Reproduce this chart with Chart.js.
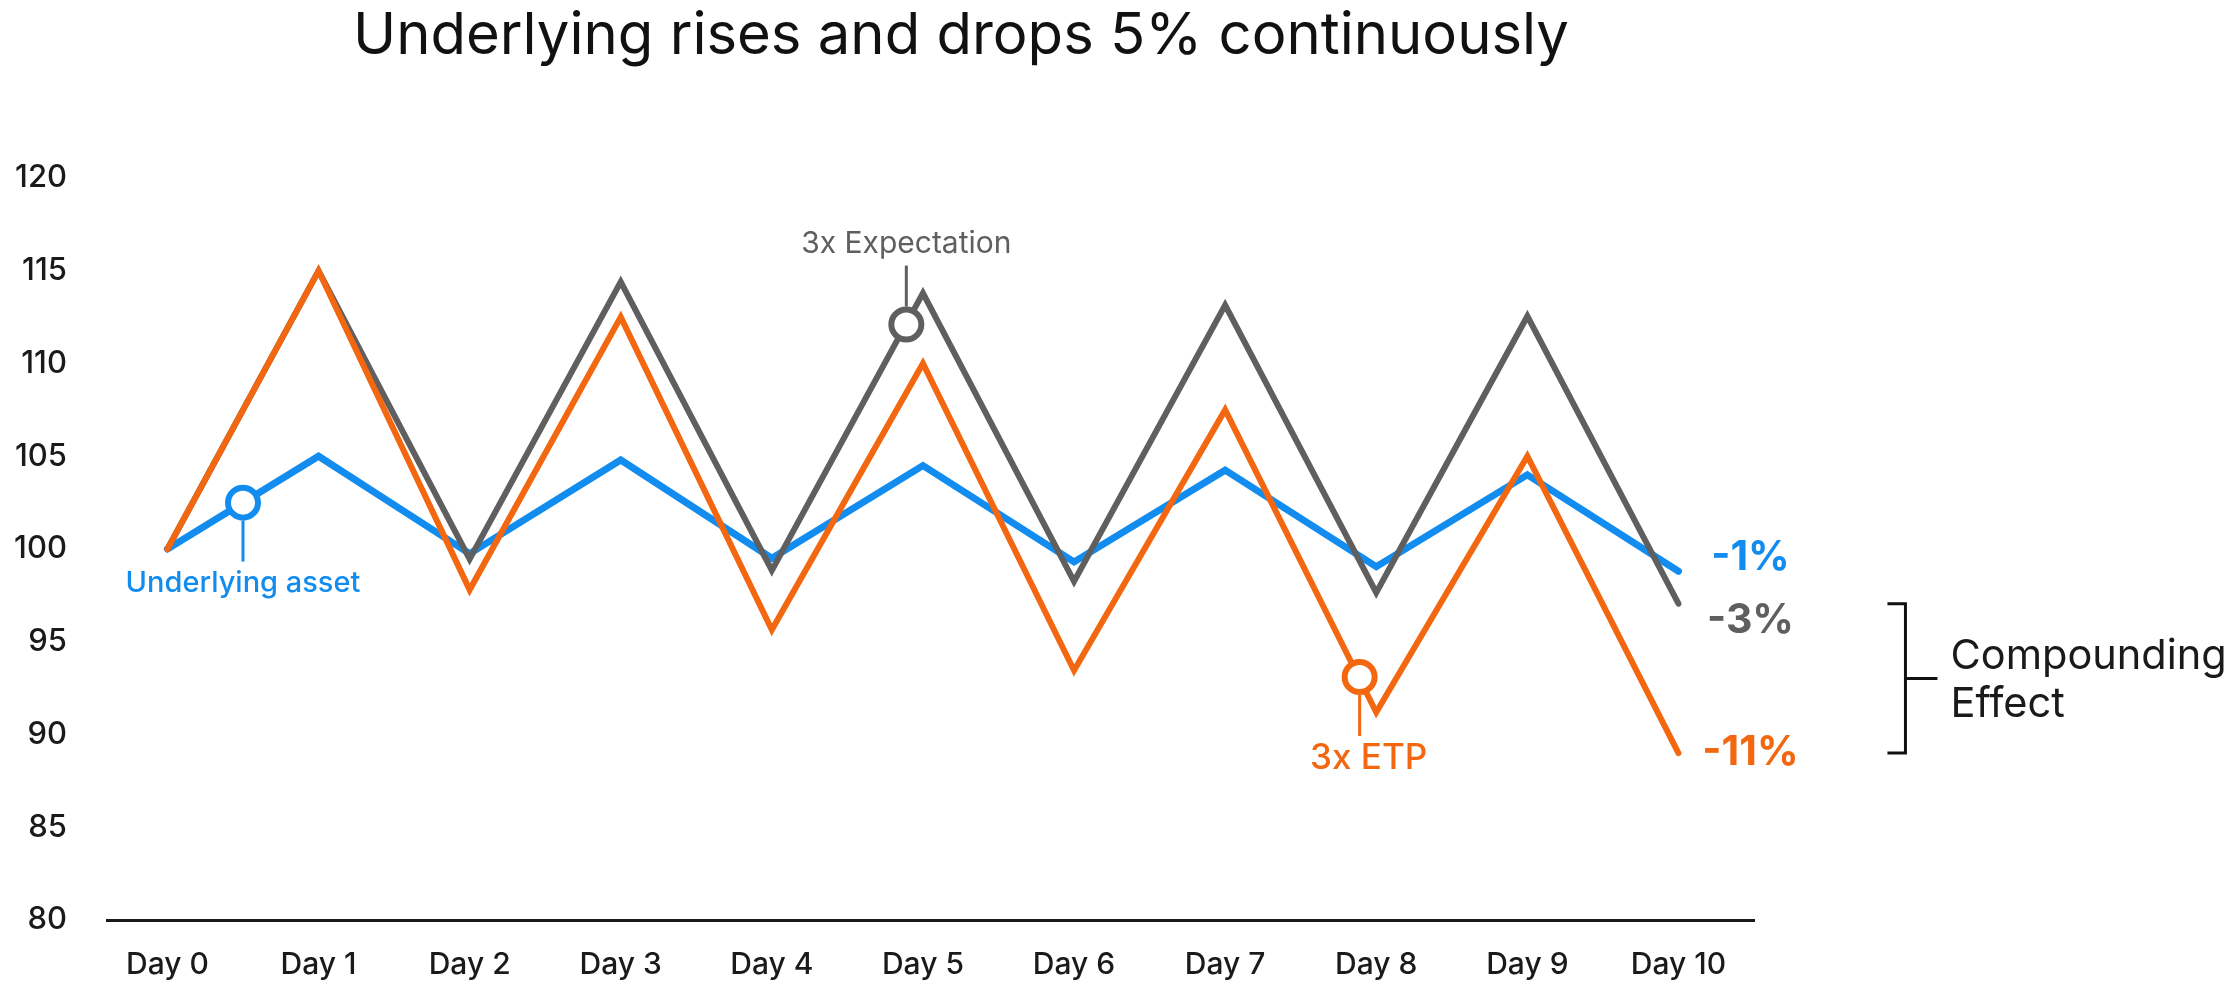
<!DOCTYPE html>
<html>
<head>
<meta charset="utf-8">
<script src="https://cdn.jsdelivr.net/npm/chart.js@4.4.1/dist/chart.umd.min.js"></script>
<style>
  html, body { margin: 0; padding: 0; background: #ffffff; }
  #wrap { width: 2233px; height: 982px; position: relative; }
</style>
</head>
<body>
<div id="wrap"><canvas id="chart"></canvas></div>
<script>
// ---------- data ----------
const categories = ["Day 0", "Day 1", "Day 2", "Day 3", "Day 4", "Day 5", "Day 6", "Day 7", "Day 8", "Day 9", "Day 10"];
const underlying   = [100, 105, 99.75, 104.8, 99.5, 104.5, 99.3, 104.25, 99.05, 104.0, 98.8];
const expectation3x = [100, 115, 99.45, 114.4, 98.85, 113.8, 98.25, 113.15, 97.65, 112.55, 97.05];
const etp3x        = [100, 115, 97.8, 112.5, 95.65, 110.0, 93.45, 107.5, 91.2, 105.0, 89.0];
const yTicks = [80, 85, 90, 95, 100, 105, 110, 115, 120];
const seriesNames = ["Underlying asset", "3x Expectation", "3x ETP"];
const endLabels = ["-1%", "-3%", "-11%"];
const titleText = "Underlying rises and drops 5% continuously";
const bracketText = ["Compounding", "Effect"];

// ---------- styles ----------
const BLUE = "#128DEF", GRAY = "#5F5F5F", ORANGE = "#F2670F", INK = "#1A1A1A";
const FONT = "Inter, 'Noto Sans', sans-serif";

// annotation markers (x in day units, y in value units)
const markers = [
  { x: 0.5,  y: 102.5, color: BLUE,   dir: 1,  text: seriesNames[0], weight: 500, size: 29, dx: 0 },
  { x: 4.89, y: 112.1, color: GRAY,   dir: -1, text: seriesNames[1], weight: 400, size: 30, dx: 0 },
  { x: 7.89, y: 93.1,  color: ORANGE, dir: 1,  text: seriesNames[2], weight: 500, size: 35, dx: 9 }
];
const endLabelYs = [99.52, 96.12, 89.0];
const endColors = [BLUE, GRAY, ORANGE];

const toXY = arr => arr.map((v, i) => ({ x: i, y: v }));

const overlay = {
  id: "overlay",
  afterDraw(chart) {
    const ctx = chart.ctx, xs = chart.scales.x, ys = chart.scales.y;
    ctx.save();
    // title
    ctx.fillStyle = "#111111";
    ctx.font = "400 58px " + FONT;
    ctx.textAlign = "center";
    ctx.textBaseline = "middle";
    ctx.fillText(titleText, 961, 37);

    // annotation stems + labels
    markers.forEach(m => {
      const cx = xs.getPixelForValue(m.x), cy = ys.getPixelForValue(m.y);
      ctx.strokeStyle = m.color;
      ctx.lineWidth = 3;
      ctx.beginPath();
      ctx.moveTo(cx, cy + m.dir * 18);
      ctx.lineTo(cx, cy + m.dir * 59);
      ctx.stroke();
      ctx.fillStyle = m.color;
      ctx.font = m.weight + " " + m.size + "px " + FONT;
      ctx.textAlign = "center";
      ctx.textBaseline = "middle";
      ctx.fillText(m.text, cx + m.dx, cy + m.dir * 81);
    });

    // end labels
    const xEnd = xs.getPixelForValue(categories.length - 1);
    endLabels.forEach((t, i) => {
      ctx.fillStyle = endColors[i];
      ctx.font = "700 41px " + FONT;
      ctx.textAlign = "center";
      ctx.textBaseline = "middle";
      ctx.fillText(t, xEnd + 72, ys.getPixelForValue(endLabelYs[i]));
    });

    // bracket
    const yTop = ys.getPixelForValue(expectation3x[expectation3x.length - 1]);
    const yBot = ys.getPixelForValue(etp3x[etp3x.length - 1]);
    const yMid = (yTop + yBot) / 2;
    const bx = xEnd + 227;
    ctx.strokeStyle = "#111111";
    ctx.lineWidth = 3;
    ctx.beginPath();
    ctx.moveTo(bx - 18, yTop); ctx.lineTo(bx, yTop); ctx.lineTo(bx, yBot); ctx.lineTo(bx - 18, yBot);
    ctx.moveTo(bx, yMid); ctx.lineTo(bx + 32, yMid);
    ctx.stroke();
    ctx.fillStyle = "#1A1A1A";
    ctx.font = "400 41.5px " + FONT;
    ctx.textAlign = "left";
    ctx.textBaseline = "middle";
    ctx.fillText(bracketText[0], bx + 45, yMid - 22);
    ctx.fillText(bracketText[1], bx + 45, yMid + 26);
    ctx.restore();
  }
};

const markerDatasets = markers.map(m => ({
  data: [{ x: m.x, y: m.y }],
  showLine: false,
  pointRadius: 15,
  pointBorderWidth: 6,
  pointBorderColor: m.color,
  pointBackgroundColor: "#ffffff",
  order: 0
}));

new Chart(document.getElementById("chart"), {
  type: "line",
  data: {
    datasets: [
      { label: seriesNames[2], data: toXY(etp3x), borderColor: ORANGE, borderWidth: 6, order: 1 },
      { label: seriesNames[1], data: toXY(expectation3x), borderColor: GRAY, borderWidth: 6, order: 2 },
      { label: seriesNames[0], data: toXY(underlying), borderColor: BLUE, borderWidth: 7, order: 3 },
      ...markerDatasets
    ]
  },
  options: {
    responsive: true,
    maintainAspectRatio: false,
    animation: false,
    events: [],
    layout: { padding: { left: 0, right: 479, top: 178, bottom: 0 } },
    elements: {
      line: { tension: 0, borderCapStyle: "round", borderJoinStyle: "miter", fill: false },
      point: { radius: 0, hoverRadius: 0 }
    },
    plugins: { legend: { display: false }, tooltip: { enabled: false }, title: { display: false } },
    scales: {
      x: {
        type: "linear",
        min: -0.4,
        max: 10.5,
        afterBuildTicks: axis => { axis.ticks = categories.map((_, i) => ({ value: i })); },
        afterFit: axis => { axis.height = 62; },
        grid: { display: false, drawTicks: false },
        border: { display: true, color: "#1A1A1A", width: 3 },
        ticks: {
          padding: 27,
          color: INK,
          font: { family: FONT, size: 30, weight: 500 },
          maxRotation: 0,
          autoSkip: false,
          callback: v => categories[v]
        }
      },
      y: {
        min: 80,
        max: 120,
        afterBuildTicks: axis => { axis.ticks = yTicks.map(v => ({ value: v })); },
        afterFit: axis => { axis.width = 107; },
        grid: { display: false, drawTicks: false },
        border: { display: false },
        ticks: {
          padding: 40,
          color: INK,
          font: { family: FONT, size: 31, weight: 500 }
        }
      }
    }
  },
  plugins: [overlay]
});
</script>
</body>
</html>
